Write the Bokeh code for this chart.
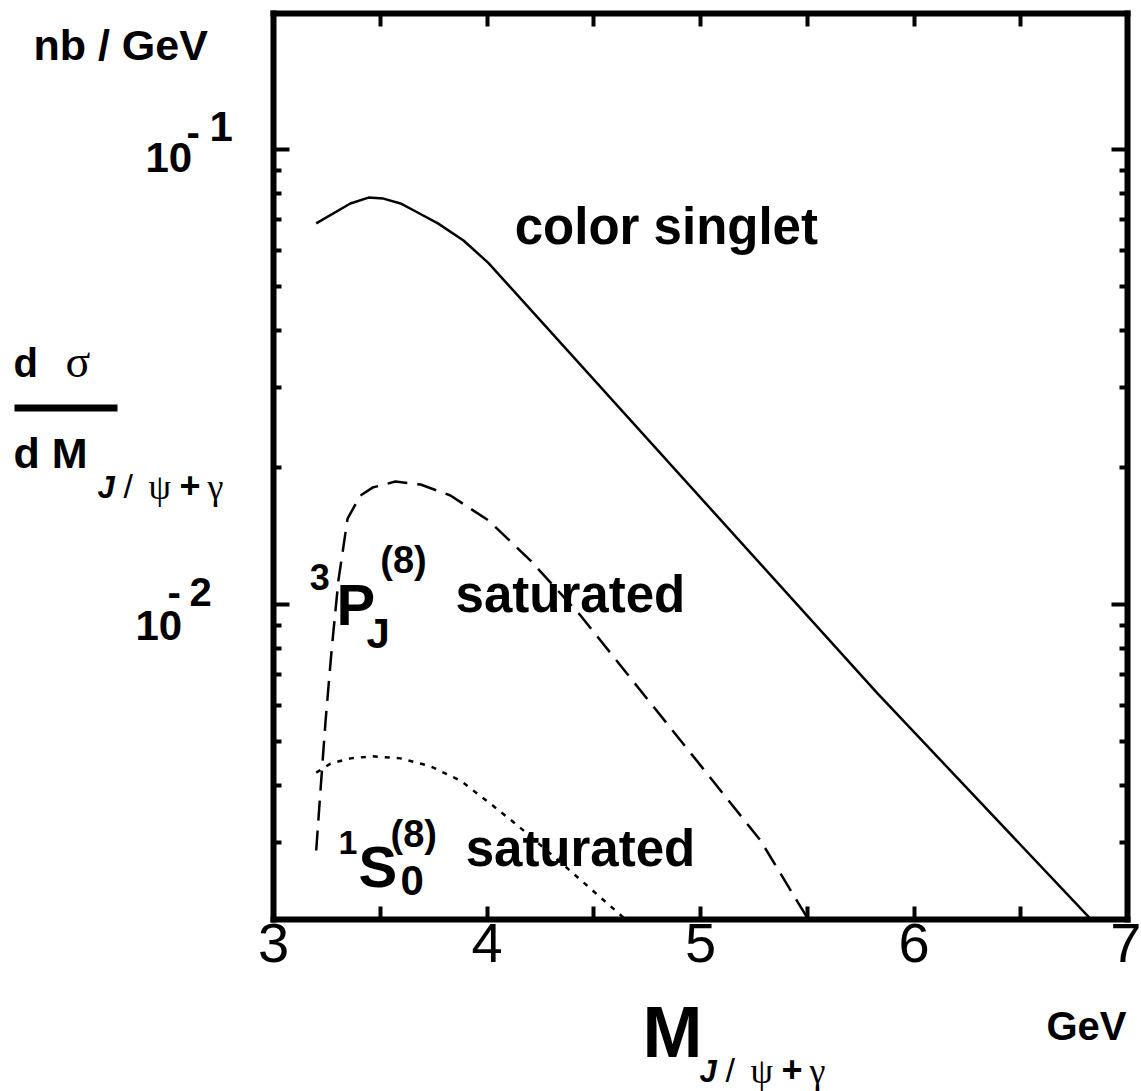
from bokeh.plotting import figure
from bokeh.models import Range1d, LinearAxis, LogAxis, FixedTicker, Label, BoxAnnotation
from bokeh.embed import file_html
from bokeh.resources import INLINE

# ---------------- data ----------------
x_ticks = [3, 4, 5, 6, 7]
x_minor = [3.5, 4.5, 5.5, 6.5]
top_ticks = [3.5, 4, 4.5, 5, 5.5, 6, 6.5]
y_major = [0.01, 0.1]
y_minor = [0.003, 0.004, 0.005, 0.006, 0.007, 0.008, 0.009,
           0.02, 0.03, 0.04, 0.05, 0.06, 0.07, 0.08, 0.09]

singlet_m = [3.20, 3.36, 3.445, 3.515, 3.595, 3.675, 3.77, 3.89, 4.005, 5.83, 6.83]
singlet_val = [0.0688, 0.0761, 0.0784, 0.0780, 0.0761, 0.0727, 0.0688, 0.0631,
               0.0564, 0.00637, 0.00203]

p3_m = [3.20, 3.22, 3.244, 3.272, 3.304, 3.347, 3.407, 3.464, 3.571, 3.689,
        3.829, 4.007, 4.204, 4.438, 4.719, 5.0, 5.281, 5.505]
p3_val = [0.00288, 0.00390, 0.00556, 0.00792, 0.01129, 0.01545, 0.01736, 0.01807,
          0.01863, 0.01835, 0.01736, 0.01530, 0.01249, 0.00946, 0.00647, 0.00443,
          0.00303, 0.00203]

s1_m = [3.20, 3.267, 3.361, 3.464, 3.595, 3.735, 3.876, 4.016, 4.143, 4.377, 4.65]
s1_val = [0.00427, 0.00447, 0.00459, 0.00464, 0.00459, 0.00441, 0.00410, 0.00365,
          0.00327, 0.00263, 0.00203]

# axis box (the drawn frame) in data units
box_x = (3, 7)
box_y = (10 ** -2.6923, 10 ** -0.7011)
# full canvas in data units
view_x = (1.72131, 7.06557)
view_y = (10 ** -3.07033, 10 ** -0.67253)

# ---------------- figure ----------------
W, H = 1141, 1091
PX_PER_DECADE = 455.0
K = 0.37   # baseline correction of the label text box (fraction of font size)

p = figure(width=W, height=H, x_range=Range1d(*view_x), y_range=Range1d(*view_y),
           y_axis_type="log", output_backend="svg", toolbar_location=None,
           min_border=0)
p.grid.visible = False
p.outline_line_color = None
p.background_fill_color = "white"
p.border_fill_color = "white"

SANS = "Liberation Sans"
SERIF = "Liberation Serif"

def style_axis(ax, tin, min_in, loc, bounds):
    ax.fixed_location = loc
    ax.bounds = bounds
    ax.axis_line_color = "black"
    ax.axis_line_width = 6
    ax.axis_line_cap = "square"
    ax.major_tick_in = tin
    ax.major_tick_out = 0
    ax.minor_tick_in = min_in
    ax.minor_tick_out = 0
    ax.major_tick_line_width = 4
    ax.minor_tick_line_width = 4
    ax.major_tick_line_color = "black"
    ax.minor_tick_line_color = "black"

# bottom axis
bx = p.xaxis[0]
bx.ticker = FixedTicker(ticks=x_ticks, minor_ticks=x_minor)
style_axis(bx, 13, 13, box_y[0], box_x)
bx.major_label_text_font = SANS
bx.major_label_text_font_size = "56px"
bx.major_label_text_color = "black"
bx.major_label_standoff = 5

# top axis
tx = LinearAxis(ticker=FixedTicker(ticks=top_ticks, minor_ticks=[]))
style_axis(tx, 13, 13, box_y[1], box_x)
tx.major_label_overrides = {t: "" for t in top_ticks}
tx.major_label_standoff = 0
p.add_layout(tx, "above")

# left axis
ly = p.yaxis[0]
ly.ticker = FixedTicker(ticks=y_major, minor_ticks=y_minor)
style_axis(ly, 16, 8, box_x[0], box_y)
ly.major_label_overrides = {t: "" for t in y_major}
ly.major_label_standoff = 0

# right axis
ry = LogAxis(ticker=FixedTicker(ticks=y_major, minor_ticks=y_minor))
style_axis(ry, 16, 8, box_x[1], box_y)
ry.major_label_overrides = {t: "" for t in y_major}
ry.major_label_standoff = 0
p.add_layout(ry, "right")

# ---------------- curves ----------------
p.line(singlet_m, singlet_val, line_color="black", line_width=2.5)
p.line(p3_m, p3_val, line_color="black", line_width=2.5, line_dash="20 10")
p.line(s1_m, s1_val, line_color="black", line_width=2.5, line_dash="5 7")

# ---------------- texts ----------------
def dlabel(text, x, y, size, font=SANS, style="bold"):
    y_adj = y * 10 ** (K * size / PX_PER_DECADE)
    p.add_layout(Label(x=x, y=y_adj, text=text, text_font=font, text_font_style=style,
                       text_font_size=f"{size}px", text_color="black",
                       text_align="left", text_baseline="alphabetic"))

def slabel(text, px, py, size, font=SANS, style="bold"):
    p.add_layout(Label(x=px, y=H - py + K * size, x_units="screen", y_units="screen",
                       text=text, text_font=font, text_font_style=style,
                       text_font_size=f"{size}px", text_color="black",
                       text_align="left", text_baseline="alphabetic"))

# in-plot annotations (data coordinates of the baselines)
dlabel("color singlet", 4.13, 0.0615, 51)
dlabel("saturated", 3.853, 0.00955, 51)
dlabel("saturated", 3.900, 0.00264, 51)
dlabel("3", 3.170, 0.01074, 36)
dlabel("P", 3.295, 0.00899, 58)
dlabel("J", 3.436, 0.0080, 42)
dlabel("(8)", 3.500, 0.01164, 38)
dlabel("1", 3.305, 0.002808, 34)
dlabel("S", 3.3985, 0.002388, 58)
dlabel("0", 3.595, 0.002282, 42)
dlabel("(8)", 3.548, 0.00291, 38)

# unit at top-left
slabel("nb / GeV", 33, 60, 43)

# y tick labels 10^-1 and 10^-2
slabel("10", 145, 173, 42)
slabel("-", 186, 146, 40)
slabel("1", 209, 142, 42)
slabel("10", 135, 641, 42)
slabel("-", 167, 606, 40)
slabel("2", 189, 606, 40)

# y axis title  d sigma / d M_{J/psi+gamma}
slabel("d", 13, 377, 40)
slabel("σ", 65, 378, 46, font=SERIF, style="normal")
p.add_layout(BoxAnnotation(left=14, right=117, top=H - 404, bottom=H - 411,
                           left_units="screen", right_units="screen",
                           top_units="screen", bottom_units="screen",
                           fill_color="black", fill_alpha=1, line_color=None))
slabel("d M", 13, 468, 43)
slabel("J", 97, 498, 31, style="bold italic")
slabel("/", 123, 498, 34, style="normal")
slabel("ψ", 148, 500, 36, font=SERIF, style="normal")
slabel("+", 179, 498, 36)
slabel("γ", 207, 500, 36, font=SERIF, style="normal")

# x axis title
slabel("M", 642, 1058, 72)
slabel("J", 699, 1082, 31, style="bold italic")
slabel("/", 725, 1082, 34, style="normal")
slabel("ψ", 750, 1084, 36, font=SERIF, style="normal")
slabel("+", 781, 1082, 36)
slabel("γ", 809, 1084, 36, font=SERIF, style="normal")
slabel("GeV", 1046, 1040, 40)

open("out.html", "w").write(file_html(p, INLINE))
